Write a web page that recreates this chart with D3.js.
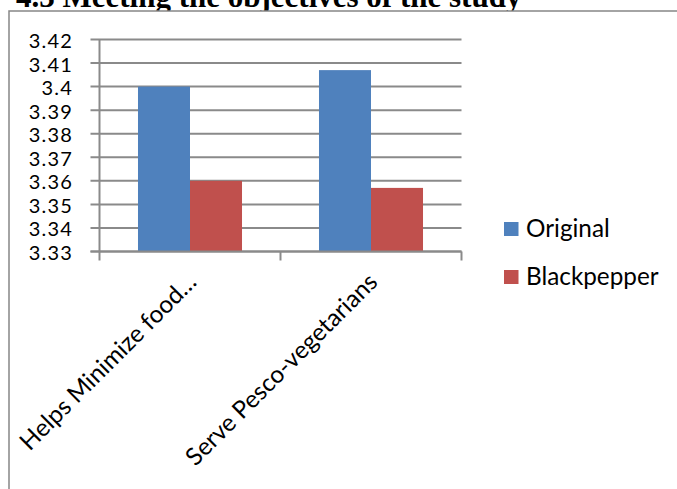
<!DOCTYPE html>
<html>
<head>
<meta charset="utf-8">
<script src="https://cdn.jsdelivr.net/npm/d3@7"></script>
<style>
  html, body { margin: 0; padding: 0; background: #fff; }
  svg { display: block; }
</style>
</head>
<body>
<svg id="chart" width="677" height="489"></svg>
<script>
const titleText = "4.3 Meeting the objectives of the study";
const categories = ["Helps Minimize food\u2026", "Serve Pesco-vegetarians"];
const seriesNames = ["Original", "Blackpepper"];
const originalValues = [3.40, 3.407];
const blackpepperValues = [3.36, 3.357];
const yTicks = [3.33, 3.34, 3.35, 3.36, 3.37, 3.38, 3.39, 3.40, 3.41, 3.42];
const colors = ["#4F81BD", "#C0504D"];

const seriesValues = [originalValues, blackpepperValues];
const data = categories.map((c, i) => ({
  category: c,
  values: seriesNames.map((s, j) => ({ series: s, value: seriesValues[j][i] }))
}));

const svg = d3.select("#chart");
const labelFont = "Lato, 'Open Sans', sans-serif";

// Title (partially hidden behind chart area)
svg.append("text")
  .attr("x", 16).attr("y", 7)
  .attr("font-family", "'Liberation Serif', 'Times New Roman', serif")
  .attr("font-weight", "bold")
  .attr("font-size", 31)
  .attr("fill", "#000")
  .text(titleText);

// Chart area
svg.append("rect")
  .attr("x", 9).attr("y", 11)
  .attr("width", 700).attr("height", 500)
  .attr("fill", "#fff")
  .attr("stroke", "#868686").attr("stroke-width", 1.5);

const plot = { left: 99.5, right: 461.5, top: 39.5, bottom: 251.5 };

const y = d3.scaleLinear()
  .domain([d3.min(yTicks), d3.max(yTicks)])
  .range([plot.bottom, plot.top]);

const x0 = d3.scaleBand()
  .domain(categories)
  .range([plot.left, plot.right])
  .paddingInner(0).paddingOuter(0);

const x1 = d3.scaleBand()
  .domain(seriesNames)
  .range([0, x0.bandwidth()])
  .paddingInner(0).paddingOuter(0.74);

const color = d3.scaleOrdinal().domain(seriesNames).range(colors);

// Gridlines
svg.append("g")
  .selectAll("line")
  .data(yTicks)
  .join("line")
  .attr("x1", plot.left - 9).attr("x2", plot.right)
  .attr("y1", d => y(d)).attr("y2", d => y(d))
  .attr("stroke", "#8a8a8a").attr("stroke-width", 2);

// Bars
const groups = svg.append("g")
  .selectAll("g")
  .data(data)
  .join("g")
  .attr("transform", d => `translate(${x0(d.category)},0)`);

groups.selectAll("rect")
  .data(d => d.values)
  .join("rect")
  .attr("x", d => x1(d.series))
  .attr("width", x1.bandwidth())
  .attr("y", d => y(d.value))
  .attr("height", d => y(y.domain()[0]) - y(d.value))
  .attr("fill", d => color(d.series));

// Y axis line
svg.append("line")
  .attr("x1", plot.left).attr("x2", plot.left)
  .attr("y1", plot.top).attr("y2", plot.bottom + 9)
  .attr("stroke", "#8a8a8a").attr("stroke-width", 2);

// X axis line and category ticks
svg.append("line")
  .attr("x1", plot.left - 9).attr("x2", plot.right)
  .attr("y1", plot.bottom).attr("y2", plot.bottom)
  .attr("stroke", "#8a8a8a").attr("stroke-width", 2);

const catEdges = categories.map(c => x0(c) + x0.bandwidth());
svg.append("g")
  .selectAll("line")
  .data(catEdges)
  .join("line")
  .attr("x1", d => d).attr("x2", d => d)
  .attr("y1", plot.bottom).attr("y2", plot.bottom + 9)
  .attr("stroke", "#8a8a8a").attr("stroke-width", 2);

// Y tick labels
svg.append("g")
  .selectAll("text")
  .data(yTicks)
  .join("text")
  .attr("x", 73)
  .attr("y", d => y(d) + 8.5)
  .attr("text-anchor", "end")
  .attr("font-family", labelFont)
  .attr("font-size", 20)
  .attr("letter-spacing", 1.2)
  .attr("fill", "#000")
  .text(d => String(d));

// Category labels (rotated)
svg.append("g")
  .selectAll("text")
  .data(categories)
  .join("text")
  .attr("transform", d => `translate(${x0(d) + x0.bandwidth() / 2 + 8},${plot.bottom + 32}) rotate(-45)`)
  .attr("text-anchor", "end")
  .attr("font-family", labelFont)
  .attr("font-size", 24.3)
  .attr("fill", "#000")
  .text(d => d);

// Legend
const legend = svg.append("g")
  .selectAll("g")
  .data(seriesNames)
  .join("g")
  .attr("transform", (d, i) => `translate(504,${222 + i * 48})`);

legend.append("rect")
  .attr("width", 14.5).attr("height", 14)
  .attr("fill", d => color(d));

legend.append("text")
  .attr("x", 22).attr("y", 15)
  .attr("font-family", labelFont)
  .attr("font-size", 24.3)
  .attr("fill", "#000")
  .text(d => d);
</script>
</body>
</html>
